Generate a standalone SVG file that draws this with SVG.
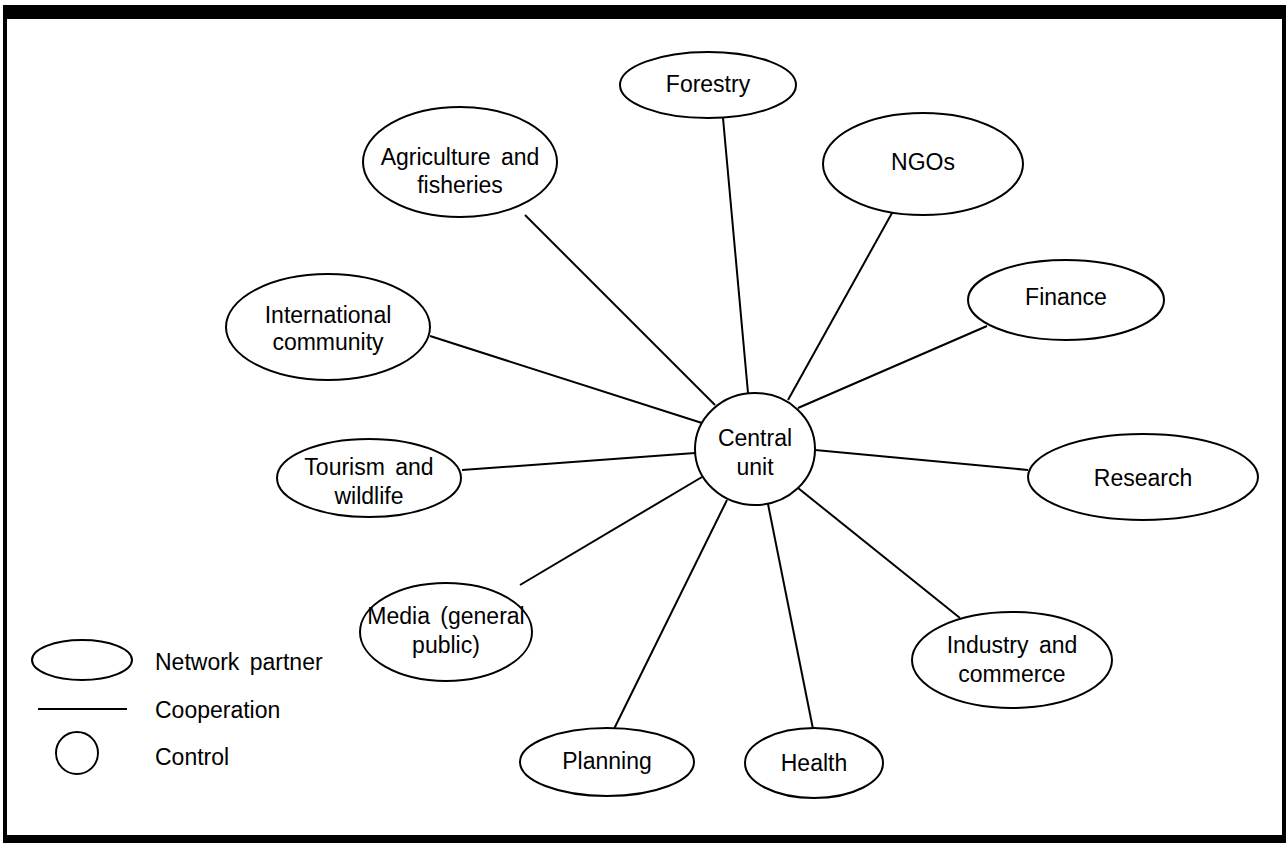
<svg xmlns="http://www.w3.org/2000/svg" width="1286" height="843" viewBox="0 0 1286 843">
  <style>
    .node { fill: #fff; stroke: #000; stroke-width: 2; }
    .edge { stroke: #000; stroke-width: 2; fill: none; }
    text { font-family: "Liberation Sans", Arial, sans-serif; font-size: 23px; fill: #000; text-anchor: middle; word-spacing: 4px; }
    .legend { text-anchor: start; }
  </style>

  <!-- frame -->
  <rect x="3" y="5" width="1283" height="838" fill="#000"/>
  <rect x="7" y="19" width="1275" height="816" fill="#fff"/>

  <!-- cooperation lines -->
  <g id="connectors">
    <line class="edge" x1="723" y1="118" x2="748" y2="393"/>
    <line class="edge" x1="892" y1="213" x2="788" y2="400"/>
    <line class="edge" x1="987" y1="326" x2="798" y2="408"/>
    <line class="edge" x1="1028" y1="470" x2="815" y2="450"/>
    <line class="edge" x1="960" y1="618" x2="798" y2="488"/>
    <line class="edge" x1="813" y1="729" x2="768" y2="504"/>
    <line class="edge" x1="613" y1="731" x2="727" y2="500"/>
    <line class="edge" x1="520" y1="585" x2="702" y2="477"/>
    <line class="edge" x1="462" y1="470" x2="695" y2="453"/>
    <line class="edge" x1="430" y1="336" x2="702" y2="423"/>
    <line class="edge" x1="525" y1="215" x2="715" y2="405"/>
  </g>

  <g id="central">
    <ellipse class="node" cx="755" cy="449" rx="60" ry="56"/>
    <text x="755" y="446">Central</text>
    <text x="755" y="475">unit</text>
  </g>

  <g id="forestry">
    <ellipse class="node" cx="708" cy="85" rx="88" ry="33"/>
    <text x="708" y="92">Forestry</text>
  </g>

  <g id="agriculture">
    <ellipse class="node" cx="460" cy="162" rx="97" ry="55"/>
    <text x="460" y="165">Agriculture and</text>
    <text x="460" y="193">fisheries</text>
  </g>

  <g id="ngos">
    <ellipse class="node" cx="923" cy="164" rx="100" ry="51"/>
    <text x="923" y="170">NGOs</text>
  </g>

  <g id="international">
    <ellipse class="node" cx="328" cy="327" rx="102" ry="53"/>
    <text x="328" y="323">International</text>
    <text x="328" y="350">community</text>
  </g>

  <g id="finance">
    <ellipse class="node" cx="1066" cy="300" rx="98" ry="40"/>
    <text x="1066" y="305">Finance</text>
  </g>

  <g id="tourism">
    <ellipse class="node" cx="369" cy="478" rx="92" ry="39"/>
    <text x="369" y="475">Tourism and</text>
    <text x="369" y="504">wildlife</text>
  </g>

  <g id="research">
    <ellipse class="node" cx="1143" cy="477" rx="115" ry="43"/>
    <text x="1143" y="486">Research</text>
  </g>

  <g id="media">
    <ellipse class="node" cx="446" cy="632" rx="86" ry="49"/>
    <text x="446" y="624">Media (general</text>
    <text x="446" y="653">public)</text>
  </g>

  <g id="industry">
    <ellipse class="node" cx="1012" cy="660" rx="100" ry="48"/>
    <text x="1012" y="653">Industry and</text>
    <text x="1012" y="682">commerce</text>
  </g>

  <g id="planning">
    <ellipse class="node" cx="607" cy="762" rx="87" ry="34"/>
    <text x="607" y="769">Planning</text>
  </g>

  <g id="health">
    <ellipse class="node" cx="814" cy="763" rx="69" ry="35"/>
    <text x="814" y="771">Health</text>
  </g>

  <!-- key -->
  <g id="legend">
    <ellipse class="node" cx="82" cy="660" rx="50" ry="20"/>
    <text class="legend" x="155" y="670">Network partner</text>
    <line class="edge" x1="38" y1="709" x2="127" y2="709"/>
    <text class="legend" x="155" y="718">Cooperation</text>
    <circle class="node" cx="77" cy="753" r="21"/>
    <text class="legend" x="155" y="765">Control</text>
  </g>
</svg>
